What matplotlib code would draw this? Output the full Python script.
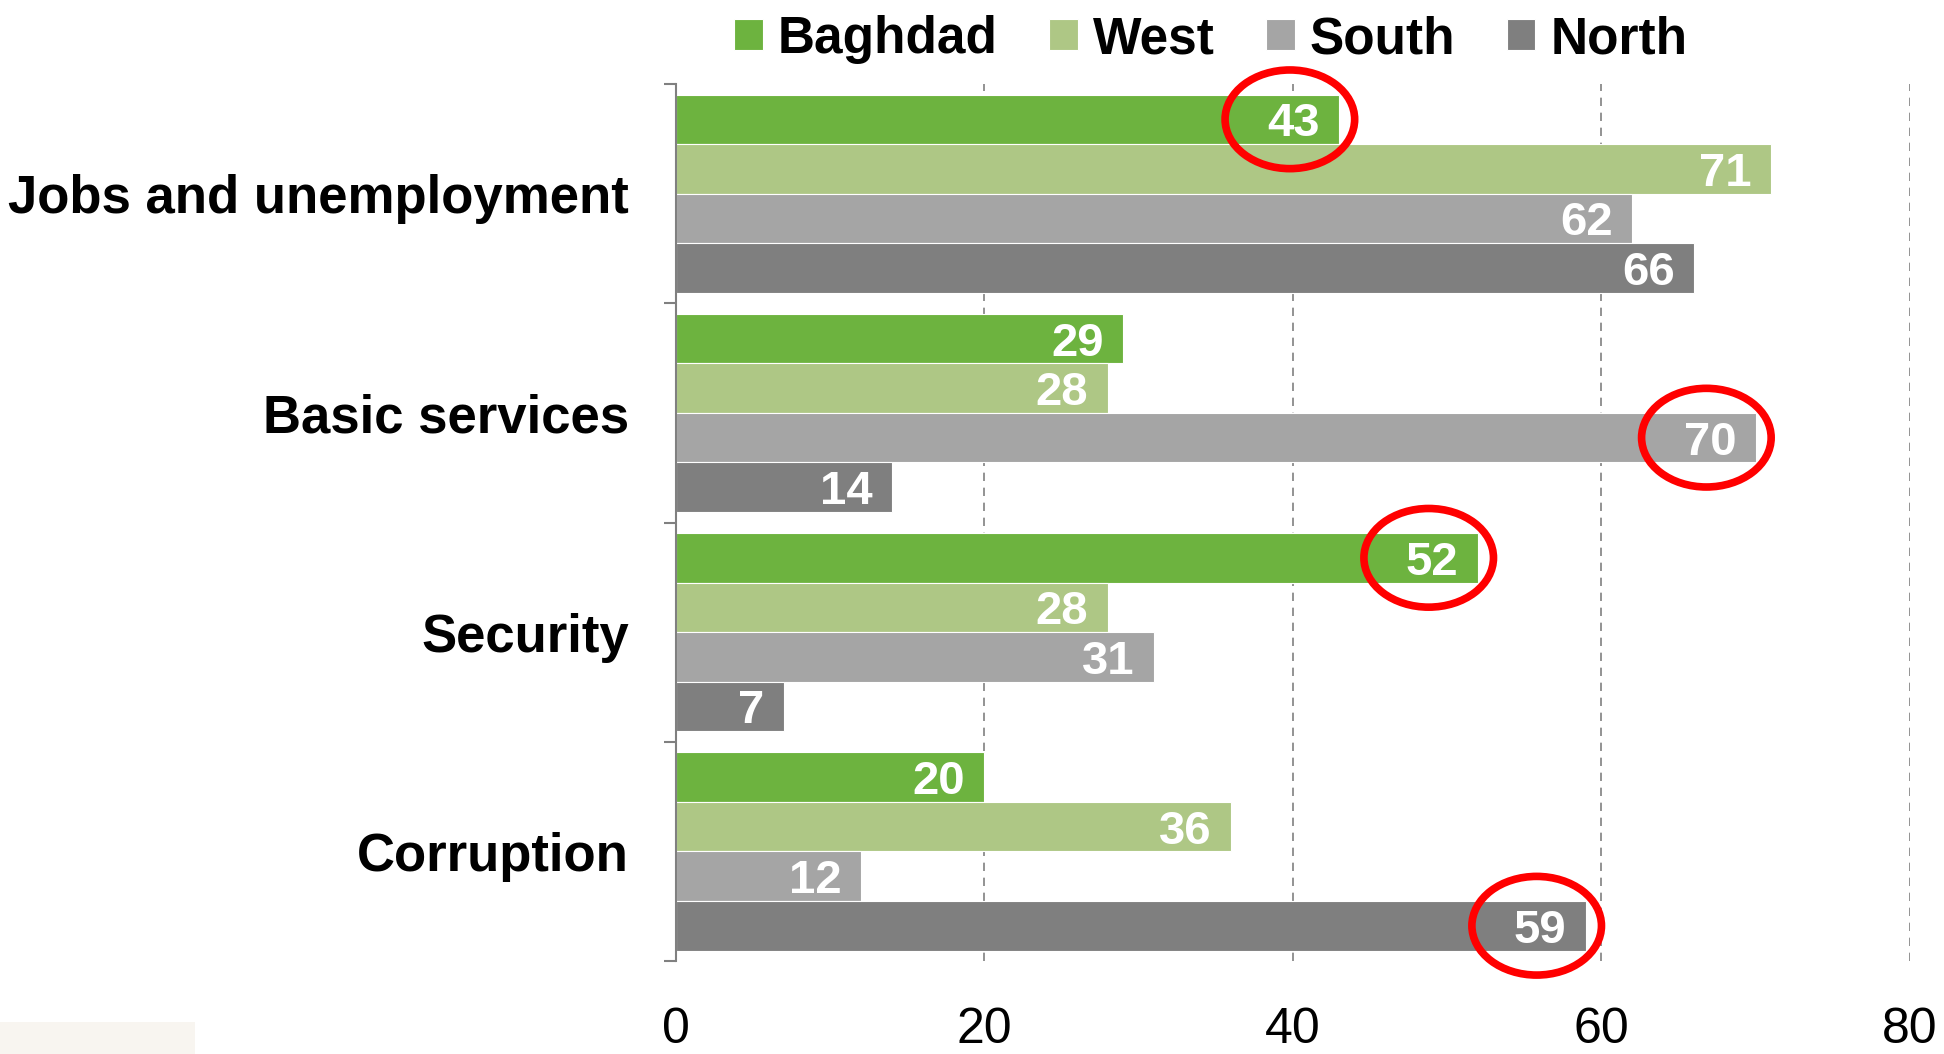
import matplotlib
matplotlib.use("Agg")
import matplotlib.pyplot as plt
from matplotlib.patches import Ellipse, Rectangle
import numpy as np

categories = ["Jobs and unemployment", "Basic services", "Security", "Corruption"]
series = ["Baghdad", "West", "South", "North"]
baghdad = [43, 29, 52, 20]
west = [71, 28, 28, 36]
south = [62, 70, 31, 12]
north = [66, 14, 7, 59]
colors = ["#6DB33F", "#AEC785", "#A5A5A5", "#7F7F7F"]
xticks = [0, 20, 40, 60, 80]
# highlighted (category index, series index)
highlights = [(0, 0), (1, 2), (2, 0), (3, 3)]

plt.rcParams['font.family'] = ['Liberation Sans', 'DejaVu Sans']

fig = plt.figure(figsize=(19.44, 10.54), dpi=100)
ax = fig.add_axes([0.3477, 0.0882, 0.9825 - 0.3477, 0.9203 - 0.0882])

values = [baghdad, west, south, north]
bar_h = 0.226
y = np.arange(len(categories))
for i, (name, vals, c) in enumerate(zip(series, values, colors)):
    off = (i - 1.5) * bar_h
    ax.barh(y + off, vals, height=bar_h, color=c, edgecolor="white",
            linewidth=0.8, label=name, zorder=2)
    for yy, v in zip(y + off, vals):
        ax.annotate(str(v), xy=(v, yy), xytext=(-14, 0), textcoords="offset points",
                    ha="right", va="center_baseline", color="white", fontsize=34,
                    fontweight="bold", zorder=4)

for ci, si in highlights:
    v = values[si][ci]
    yy = ci + (si - 1.5) * bar_h
    ax.add_patch(Ellipse((v - 3.2, yy), width=8.4, height=0.45, fill=False,
                         edgecolor="#FF0000", linewidth=5.5, zorder=5, clip_on=False))

ax.set_xlim(0, 80)
ax.set_ylim(3.5, -0.5)
ax.set_xticks(xticks)
ax.set_xticklabels([str(t) for t in xticks], fontsize=36)
ax.tick_params(axis="x", length=0, pad=33)
ax.set_yticks(y)
ax.set_yticklabels(categories, fontsize=38, fontweight="bold")
ax.tick_params(axis="y", which="major", length=0, pad=34)
ax.set_yticks(np.arange(-0.5, len(categories)), minor=True)
ax.tick_params(axis="y", which="minor", length=9, width=1.5, color="#808080", direction="out")

for s in ["top", "right", "bottom"]:
    ax.spines[s].set_visible(False)
ax.spines["left"].set_color("#808080")
ax.spines["left"].set_linewidth(1.5)

for t in xticks[1:]:
    ax.axvline(t, color="#808080", linestyle=(0, (5, 4)), linewidth=1.2, zorder=1)

leg = fig.legend(loc="upper center", bbox_to_anchor=(0.623, 1.015), ncol=4, frameon=False,
                 prop={"size": 37, "weight": "bold"}, handlelength=0.55, handleheight=0.55,
                 handletextpad=0.3, columnspacing=1.0, borderpad=0.1)

fig.patches.append(Rectangle((0, 0), 195 / 1944, 32 / 1054, transform=fig.transFigure,
                             facecolor="#F8F5F0", edgecolor="none"))

fig.savefig("out.png", dpi=100)
